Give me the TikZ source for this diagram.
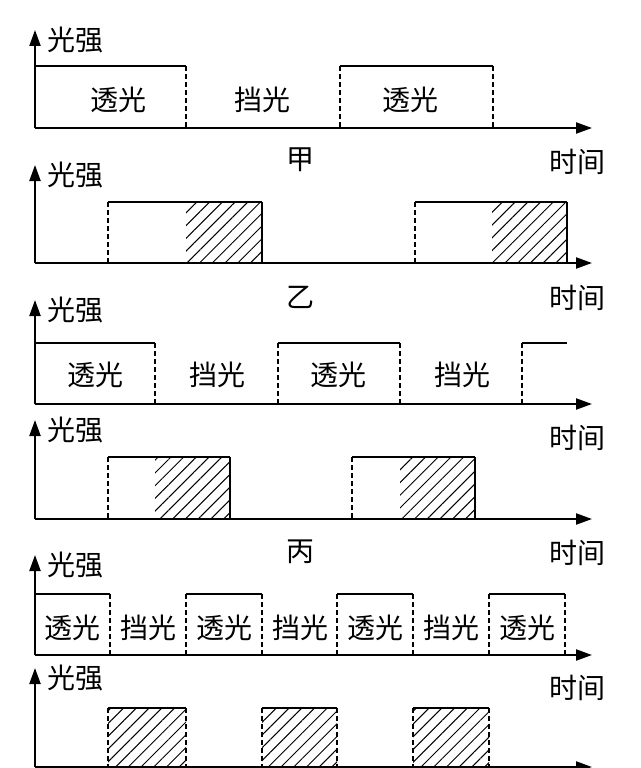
\documentclass[tikz,border=0pt]{standalone}
\usepackage{fontspec}
\setmainfont{Noto Sans CJK SC}
\usepackage{tikz}
\usetikzlibrary{arrows.meta, patterns.meta}

\begin{document}
\begin{tikzpicture}[
    x=1pt, y=-1pt,
    axis/.style={line width=2.2pt, -{Triangle[length=16pt,width=11pt]}},
    level/.style={line width=2.8pt},
    edge/.style={line width=1.2pt, dash pattern=on 5pt off 3pt},
    hatch/.style={pattern={Lines[angle=45,distance=9pt,line width=1pt]}},
    lbl/.style={font=\fontsize{28}{28}\selectfont, inner sep=0pt}
]
    \useasboundingbox (0,0) rectangle (640,768);

    % Axes of each panel: name, top of y axis, baseline
    \foreach \p/\top/\base in {a/30/128, b/165/263, c/300/404, d/420/519, e/555/655, f/668/767} {
        \coordinate (\p o) at (35,\base);
        \coordinate (\p y) at (35,\top);
        \coordinate (\p x) at (592,\base);
        \draw[axis] (\p o) -- (\p y);
        \draw[axis] (\p o) -- (\p x);
        \node[lbl] (\p lbl) at (75,\top+10) {光强};
    }

    % Captions and time labels
    \node[lbl] (jia) at (300,160) {甲};
    \node[lbl] (yi) at (300,297) {乙};
    \node[lbl] (bing) at (300,552) {丙};
    \foreach \y [count=\i] in {162,298,438,553,688}
        \node[lbl] (time\i) at (577,\y) {时间};

    % Panel 1
    \draw[level] (35,66) -- (186,66);
    \draw[level] (340,66) -- (493,66);
    \foreach \x in {186,340,493}
        \draw[edge] (\x,66) -- (\x,128);
    \node[lbl] (a1) at (118,100) {透光};
    \node[lbl] (a2) at (262,100) {挡光};
    \node[lbl] (a3) at (410,100) {透光};

    % Panel 2
    \foreach \s/\h/\e in {108/186/262, 415/492/567} {
        \fill[hatch] (\h,202) rectangle (\e,263);
        \draw[level] (\s,202) -- (\e,202);
        \draw[edge] (\s,202) -- (\s,263);
        \draw[line width=1.2pt] (\e,202) -- (\e,263);
    }

    % Panel 3
    \draw[level] (35,343) -- (155,343);
    \draw[level] (278,343) -- (400,343);
    \draw[level] (522,343) -- (567,343);
    \foreach \x in {155,278,400,522}
        \draw[edge] (\x,343) -- (\x,404);
    \node[lbl] (c1) at (95,375) {透光};
    \node[lbl] (c2) at (217,375) {挡光};
    \node[lbl] (c3) at (338,375) {透光};
    \node[lbl] (c4) at (462,375) {挡光};

    % Panel 4
    \foreach \s/\h/\e in {108/155/230, 352/400/475} {
        \fill[hatch] (\h,457) rectangle (\e,519);
        \draw[level] (\s,457) -- (\e,457);
        \draw[edge] (\s,457) -- (\s,519);
        \draw[line width=1.2pt] (\e,457) -- (\e,519);
    }

    % Panel 5
    \foreach \s/\e in {35/110, 186/262, 337/413, 489/565}
        \draw[level] (\s,594) -- (\e,594);
    \foreach \x in {110,186,262,337,413,489,565}
        \draw[edge] (\x,594) -- (\x,655);
    \foreach \x/\t [count=\i] in {72/透光, 148/挡光, 224/透光, 300/挡光, 375/透光, 451/挡光, 527/透光}
        \node[lbl] (e\i) at (\x,628) {\t};

    % Panel 6
    \foreach \s/\e in {108/186, 262/337, 413/489} {
        \fill[hatch] (\s,708) rectangle (\e,767);
        \draw[level] (\s,708) -- (\e,708);
        \draw[edge] (\s,708) -- (\s,767);
        \draw[edge] (\e,708) -- (\e,767);
    }
\end{tikzpicture}
\end{document}
